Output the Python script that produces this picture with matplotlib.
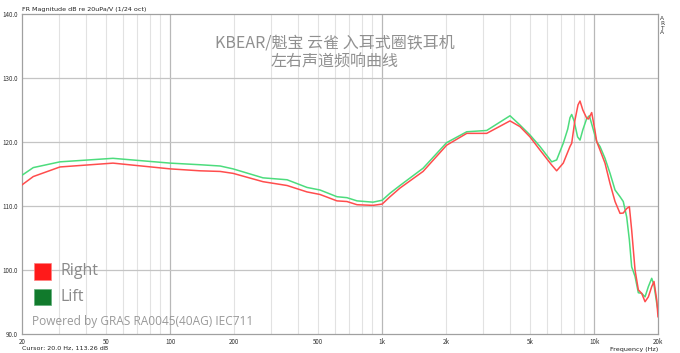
import numpy as np
import matplotlib.pyplot as plt
from matplotlib.patches import Rectangle

# frequency response
freq_r = [20, 22.6, 30.2, 53.7, 100, 138, 172, 198, 274, 356, 442, 509, 612, 682, 761, 905,
          1000, 1089, 1213, 1559, 2014, 2506, 3112, 4008, 4467, 4979, 5549, 6305, 6652,
          7147, 7690, 7833, 8113, 8390, 8574, 8840, 9226, 9400, 9733, 10070, 10280, 10651,
          11247, 11880, 12543, 13242, 13715, 14232, 14654, 15025, 15586, 16153, 16753,
          17375, 18010, 18678, 19149, 19726, 20000]
db_r = [113.3, 114.6, 116.1, 116.7, 115.8, 115.5, 115.4, 115.1, 113.8, 113.2, 112.2, 111.8,
        110.8, 110.7, 110.2, 110.1, 110.3, 111.45, 112.8, 115.4, 119.5, 121.35, 121.35, 123.3,
        122.4, 120.8, 118.75, 116.4, 115.5, 116.7, 119.3, 119.8, 123.4, 125.8, 126.4, 125.0,
        123.7, 123.6, 124.6, 121.9, 120.05, 118.75, 116.7, 113.5, 110.7, 108.85, 108.9, 109.6,
        109.9, 106.25, 100.0, 96.9, 96.35, 95.05, 95.8, 97.4, 98.2, 95.3, 92.7]

freq_l = [20, 22.6, 30.2, 53.7, 100, 138, 172, 198, 274, 356, 442, 509, 612, 682, 761, 905,
          1000, 1089, 1213, 1559, 2014, 2506, 3112, 4008, 4467, 4979, 5549, 6305, 6652,
          7147, 7500, 7690, 7833, 8040, 8350, 8574, 8840, 9226, 9488, 10280, 10651, 11247,
          11880, 12543, 13242, 13715, 14232, 14654, 15025, 15586, 16153, 16753, 17375,
          18010, 18678, 19149, 19726, 20000]
db_l = [114.8, 116.0, 116.9, 117.45, 116.7, 116.45, 116.25, 115.8, 114.4, 114.1, 112.9, 112.5,
        111.45, 111.3, 110.8, 110.6, 110.9, 112.0, 113.2, 115.9, 119.9, 121.6, 121.8, 124.1,
        122.65, 121.1, 119.3, 116.9, 117.2, 119.8, 122.0, 123.8, 124.3, 123.3, 120.8, 120.3,
        121.9, 123.7, 124.1, 120.05, 119.3, 117.45, 115.1, 112.5, 111.45, 110.7, 108.3, 104.7,
        100.5, 99.0, 96.45, 96.35, 95.8, 97.4, 98.7, 97.65, 94.8, 93.75]

x_ticks = [20, 50, 100, 200, 500, 1000, 2000, 5000, 10000, 20000]
x_labels = ["20", "50", "100", "200", "500", "1k", "2k", "5k", "10k", "20k"]
y_ticks = [90, 100, 110, 120, 130, 140]

plt.rcParams['font.family'] = ['Noto Sans CJK SC', 'DejaVu Sans']

fig = plt.figure(figsize=(6.8, 3.53), dpi=100)
ax = fig.add_axes([22 / 680, 1 - 334 / 353, 636 / 680, 320 / 353])

# grid like ARTA: minor per decade, heavier decades
for dec in [10, 100, 1000, 10000]:
    for m in range(1, 10):
        f = dec * m
        if f <= 20 or f >= 20000:
            continue
        if m == 1:
            ax.axvline(f, color='#b8b8b8', lw=0.9, zorder=1)
        else:
            ax.axvline(f, color='#e2e2e2', lw=0.8, zorder=1)
for y in y_ticks[1:-1]:
    ax.axhline(y, color='#c4c4c4', lw=0.9, zorder=1)

ax.semilogx(freq_l, db_l, color='#4ddc7d', lw=1.1, zorder=3)
ax.semilogx(freq_r, db_r, color='#ff4d4d', lw=1.1, zorder=4)

ax.set_xlim(20, 20000)
ax.set_ylim(90, 140)
ax.set_xticks(x_ticks)
ax.set_xticklabels(x_labels)
ax.xaxis.set_minor_locator(plt.NullLocator())
ax.set_yticks(y_ticks)
ax.set_yticklabels([f"{v:.1f}" for v in y_ticks])
ax.tick_params(length=0, labelsize=4.5, colors='#333333', pad=3)
for s in ax.spines.values():
    s.set_color('#a0a0a0')
    s.set_linewidth(0.9)

# title
ax.text(0.492, (334 - 52.5) / 320, "KBEAR/魁宝 云雀 入耳式圈铁耳机\n左右声道频响曲线",
        transform=ax.transAxes, ha='center', va='center', fontsize=11.5, color='#909090',
        linespacing=1.2, fontweight='light')

# legend boxes
ax.add_patch(Rectangle((12 / 636, (334 - 280) / 320), 17 / 636, 17 / 320, transform=ax.transAxes,
                       facecolor='#ff1a1a', edgecolor='#ff8080', lw=0.5, zorder=5))
ax.add_patch(Rectangle((12 / 636, (334 - 305) / 320), 17 / 636, 16 / 320, transform=ax.transAxes,
                       facecolor='#117a2c', edgecolor='#5fb07a', lw=0.5, zorder=5))
ax.text(38 / 636, (334 - 271) / 320, "Right", transform=ax.transAxes, va='center',
        fontsize=11.5, color='#8a8a8a', family=['Open Sans', 'DejaVu Sans'], zorder=5)
ax.text(38 / 636, (334 - 297) / 320, "Lift", transform=ax.transAxes, va='center',
        fontsize=11.5, color='#8a8a8a', family=['Open Sans', 'DejaVu Sans'], zorder=5)
ax.text(10 / 636, (334 - 321) / 320, "Powered by GRAS RA0045(40AG) IEC711", transform=ax.transAxes,
        va='center', fontsize=8.6, color='#999999', family=['Open Sans', 'DejaVu Sans'], zorder=5)

# ARTA annotations
fig.text(22 / 680, 1 - 10 / 353, "FR Magnitude dB re 20uPa/V (1/24 oct)", fontsize=4.6,
         va='center', color='#222222', family=['DejaVu Sans'])
fig.text(22 / 680, 1 - 348 / 353, "Cursor: 20.0 Hz, 113.26 dB", fontsize=4.6,
         va='center', color='#222222', family=['DejaVu Sans'])
fig.text(658 / 680, 1 - 349 / 353, "Frequency (Hz)", fontsize=4.6, ha='right',
         va='center', color='#222222', family=['DejaVu Sans'])
fig.text(662 / 680, 1 - 16 / 353, "A\nR\nT\nA", fontsize=4.2, va='top', ha='center',
         color='#333333', linespacing=0.95, family=['DejaVu Sans'])

fig.savefig("out.png", dpi=100)
